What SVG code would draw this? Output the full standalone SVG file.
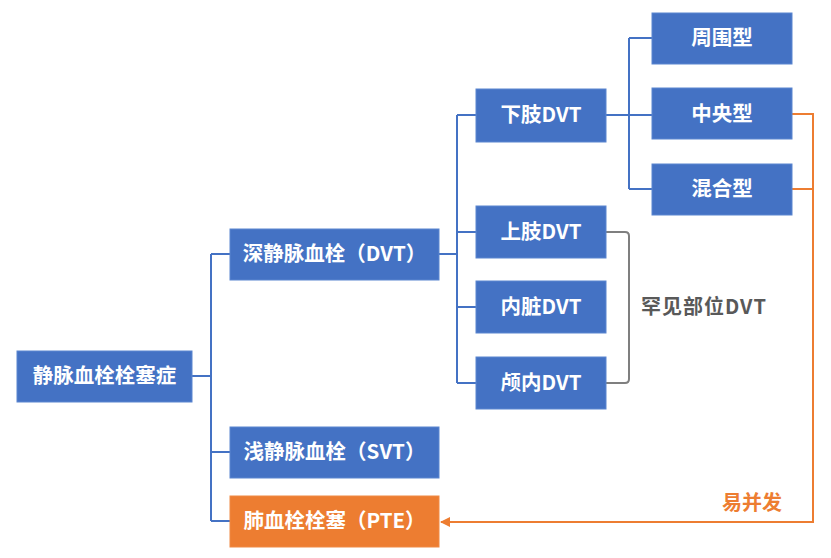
<svg xmlns="http://www.w3.org/2000/svg" width="831" height="558" viewBox="0 0 831 558">
<defs>
<style>
.b{fill:#4472C4;stroke:#5B86D0;stroke-width:1}
.o{fill:#ED7D31;stroke:#F08A45;stroke-width:1}
.t{font-family:"Noto Sans CJK SC","Noto Sans",sans-serif;font-weight:bold;font-size:20.5px;fill:#fff;text-anchor:middle}
.l{fill:none;stroke:#4472C4;stroke-width:2}
.g{fill:none;stroke:#7F7F7F;stroke-width:2}
.ol{fill:none;stroke:#ED7D31;stroke-width:2}
.lab{font-family:"Noto Sans CJK SC","Noto Sans",sans-serif;font-weight:bold;font-size:20px}
</style>
<marker id="ah" viewBox="0 0 10 10" refX="9" refY="5" markerWidth="5" markerHeight="5" orient="auto-start-reverse">
<path d="M0,0 L10,5 L0,10 z" fill="#ED7D31"/>
</marker>
</defs>
<rect width="831" height="558" fill="#fff"/>
<g id="connectors">
<path class="l" d="M192,376 H211 M211,254 V521 M211,254 H230 M211,452 H230 M211,521 H230"/>
<path class="l" d="M439,254 H457 M457,115 V383 M457,115 H476 M457,232 H476 M457,307 H476 M457,383 H476"/>
<path class="l" d="M606,115 H652 M629,38 V189 M629,38 H652 M629,189 H652"/>
<path class="g" d="M606,232 H625 Q629,232 629,236 V379 Q629,383 625,383 H606"/>
<path class="ol" d="M792,114 H813 V522 H441" marker-end="url(#ah)"/>
<path class="ol" d="M792,189 H813"/>
</g>
<g id="root"><rect class="b" x="17" y="351" width="175" height="51"/><text class="t" x="104.5" y="383">静脉血栓栓塞症</text></g>
<g id="dvt"><rect class="b" x="230" y="229" width="209" height="51"/><text class="t" x="334.5" y="261">深静脉血栓（DVT）</text></g>
<g id="svt"><rect class="b" x="230" y="427" width="209" height="51"/><text class="t" x="334.5" y="459">浅静脉血栓（SVT）</text></g>
<g id="pte"><rect class="o" x="230" y="496" width="209" height="51"/><text class="t" x="334.5" y="528">肺血栓栓塞（PTE）</text></g>
<g id="lower"><rect class="b" x="476" y="89" width="130" height="53"/><text class="t" x="541" y="122">下肢DVT</text></g>
<g id="upper"><rect class="b" x="476" y="206" width="130" height="52"/><text class="t" x="541" y="239">上肢DVT</text></g>
<g id="visceral"><rect class="b" x="476" y="281" width="130" height="52"/><text class="t" x="541" y="314">内脏DVT</text></g>
<g id="cranial"><rect class="b" x="476" y="357" width="130" height="52"/><text class="t" x="541" y="390">颅内DVT</text></g>
<g id="peripheral"><rect class="b" x="652" y="13" width="140" height="51"/><text class="t" x="722" y="45">周围型</text></g>
<g id="central"><rect class="b" x="652" y="88" width="140" height="51"/><text class="t" x="722" y="121">中央型</text></g>
<g id="mixed"><rect class="b" x="652" y="164" width="140" height="51"/><text class="t" x="722" y="196">混合型</text></g>
<g id="rare"><text class="lab" x="641" y="314" fill="#595959" textLength="125">罕见部位DVT</text></g>
<g id="complication"><text class="lab" x="722" y="510" fill="#ED7D31">易并发</text></g>
</svg>
